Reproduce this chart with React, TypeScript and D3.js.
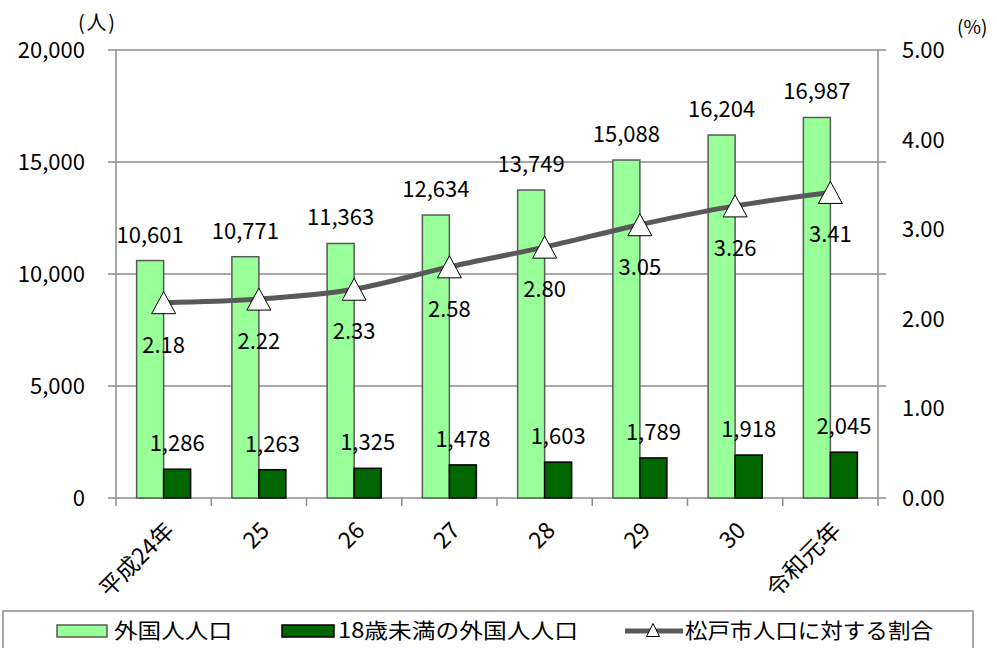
import React from "react";
import * as d3 from "d3";

const categories = ["平成24年", "25", "26", "27", "28", "29", "30", "令和元年"];
const foreignPop = [10601, 10771, 11363, 12634, 13749, 15088, 16204, 16987];
const under18Pop = [1286, 1263, 1325, 1478, 1603, 1789, 1918, 2045];
const ratio = [2.18, 2.22, 2.33, 2.58, 2.8, 3.05, 3.26, 3.41];
const leftTicks = [0, 5000, 10000, 15000, 20000];
const rightTicks = [0, 1, 2, 3, 4, 5];

const FONT = "'Noto Sans CJK JP', 'Noto Sans', sans-serif";

export default function App() {
  const W = 997, H = 648;
  const left = 116, right = 878, top = 50, bottom = 498;
  const x = d3.scaleBand<string>().domain(categories).range([left, right]).paddingInner(0).paddingOuter(0);
  const yL = d3.scaleLinear().domain([0, 20000]).range([bottom, top]);
  const yR = d3.scaleLinear().domain([0, 5]).range([bottom, top]);
  const bw = 27;
  const fmt = d3.format(",");
  const cx = (c: string) => (x(c) as number) + x.bandwidth() / 2;
  const line = d3.line<number>()
    .x((_, i) => cx(categories[i]))
    .y((d) => yR(d))
    .curve(d3.curveCatmullRom.alpha(0.5));
  const tri = (px: number, py: number, w: number, h: number) =>
    `M${px},${py - h / 2}L${px + w / 2},${py + h / 2}L${px - w / 2},${py + h / 2}Z`;
  const boundaries = [...categories.map((c) => x(c) as number), right];
  const isCJK = (s: string) => /[^\x00-\x7f]/.test(s);

  return (
    <svg width={W} height={H} style={{ position: "absolute", left: 0, top: 0, background: "#fff" }} fontFamily={FONT}>
      <rect width={W} height={H} fill="#fff" />
      {/* gridlines */}
      {leftTicks.map((t) => (
        <line key={t} x1={left - 8} x2={right + 8} y1={yL(t)} y2={yL(t)} stroke="#8c8c8c" strokeWidth={1.5} />
      ))}
      <line x1={left} x2={left} y1={top} y2={bottom} stroke="#8c8c8c" strokeWidth={1.5} />
      <line x1={right} x2={right} y1={top} y2={bottom} stroke="#8c8c8c" strokeWidth={1.5} />
      {boundaries.map((b, i) => (
        <line key={i} x1={b} x2={b} y1={bottom} y2={bottom + 8} stroke="#8c8c8c" strokeWidth={1.5} />
      ))}
      {/* bars */}
      {categories.map((c, i) => (
        <g key={c}>
          <rect x={cx(c) - bw} y={yL(foreignPop[i])} width={bw} height={bottom - yL(foreignPop[i])}
            fill="#99ff99" stroke="#595959" strokeWidth={1.5} />
          <rect x={cx(c)} y={yL(under18Pop[i])} width={bw} height={bottom - yL(under18Pop[i])}
            fill="#006600" stroke="#000" strokeWidth={1.5} />
        </g>
      ))}
      {/* line */}
      <path d={line(ratio) || ""} fill="none" stroke="#595959" strokeWidth={5} />
      {categories.map((c, i) => (
        <path key={c} d={tri(cx(c), yR(ratio[i]), 24, 22)} fill="#fff" stroke="#000" strokeWidth={1} />
      ))}
      {/* labels */}
      {categories.map((c, i) => (
        <g key={c} fontSize={22} fill="#000" textAnchor="middle">
          <text x={cx(c) - bw / 2} y={yL(foreignPop[i]) - 18}>{fmt(foreignPop[i])}</text>
          <text x={cx(c) + bw / 2} y={yL(under18Pop[i]) - 18}>{fmt(under18Pop[i])}</text>
          <text x={cx(c)} y={yR(ratio[i]) + 50}>{ratio[i].toFixed(2)}</text>
        </g>
      ))}
      {/* left axis labels */}
      {leftTicks.map((t) => (
        <text key={t} x={85} y={yL(t) + 8} fontSize={22} textAnchor="end">{fmt(t)}</text>
      ))}
      {rightTicks.map((t) => (
        <text key={t} x={902} y={yR(t) + 8} fontSize={22} textAnchor="start">{t.toFixed(2)}</text>
      ))}
      <text x={78} y={30} fontSize={20} textLength={37} lengthAdjust="spacing">(人)</text>
      <text x={957} y={34} fontSize={19}>(%)</text>
      {/* x labels */}
      {categories.map((c) => (
        <text key={c} fontSize={23} textAnchor="end"
          textLength={isCJK(c) ? 94 : undefined} lengthAdjust="spacingAndGlyphs"
          transform={`translate(${cx(c) + 12},${bottom + 34}) rotate(-45)`}>{c}</text>
      ))}
      {/* legend */}
      <rect x={3} y={611} width={970} height={60} fill="#fff" stroke="#8c8c8c" strokeWidth={1.5} />
      <rect x={57} y={625} width={50} height={12} fill="#99ff99" stroke="#595959" strokeWidth={1.5} />
      <text x={114} y={638} fontSize={21} textLength={118} lengthAdjust="spacingAndGlyphs">外国人人口</text>
      <rect x={282} y={625} width={52} height={12} fill="#006600" stroke="#000" strokeWidth={1.5} />
      <text x={338} y={638} fontSize={21} textLength={240} lengthAdjust="spacingAndGlyphs">18歳未満の外国人人口</text>
      <line x1={625} x2={683} y1={631} y2={631} stroke="#595959" strokeWidth={5} />
      <path d={tri(653, 630, 13, 13)} fill="#fff" stroke="#000" strokeWidth={1} />
      <text x={685} y={638} fontSize={21} textLength={248} lengthAdjust="spacingAndGlyphs">松戸市人口に対する割合</text>
    </svg>
  );
}
